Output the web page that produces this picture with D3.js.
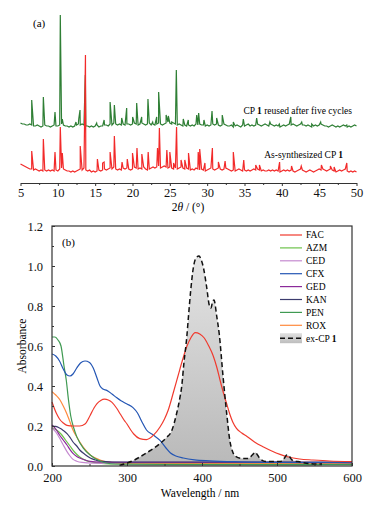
<!DOCTYPE html>
<html><head><meta charset="utf-8">
<script src="https://cdn.jsdelivr.net/npm/d3@7"></script>
<style>body{margin:0;background:#fff}svg{display:block;font-family:"Liberation Serif","DejaVu Serif",serif}svg text{font-family:"Liberation Serif","DejaVu Serif",serif}</style>
</head><body><svg id="c" width="383" height="510"></svg>
<script>
// ---------- Panel (a) data: PXRD (arbitrary intensity units) ----------
const thetaStart = 5, thetaStep = 0.25;
const greenBase = [4,3,3,2, 2,3,2,1, 1,2,1,0, 1,2,1,1, 0,1,2,1, 1,2,3,2, 1,1,0,1, 0,1,2,3, 2,3,2,1, 1,0,1,0,
  1,2,0,1, 1,2,2,1, 3,2,4,3, 2,3,2,3, 2,3,3,2, 3,4,3,2, 3,4,3,2, 3,4,2,3, 2,3,4,3, 2,3,4,5,
  4,3,4,3, 2,3,2,1, 2,1,2,1, 2,1,3,2, 3,2,2,1, 2,1,2,3, 2,3,2,1, 2,3,2,1, 1,2,0,1, 2,1,0,2,
  1,2,3,1, 2,1,2,3, 2,1,2,3, 2,1,3,2, 1,2,1,0, 1,2,1,2, 3,2,3,2, 1,2,3,2, 2,1,2,1, 0,1,2,1,
  2,3,2,1, 1,0,1,2, 1,0,1,0, 1,2,1,0, 1,0,1,2, 1];
const greenPeaks = [[6.5,27],[8.06,30],[9.62,15],[10.33,112],[10.6,8],[12.43,5],[12.8,8],[12.97,17],[13.68,52],
  [15.2,4],[16.2,7],[17.0,25],[17.57,22],[18.55,9],[19.22,19],[20.02,10],[20.56,24],[21.23,10],[22.07,28],
  [22.7,5],[23.24,10],[23.5,35],[24.5,12],[24.8,11],[25.25,5],[25.87,57],[26.8,8],[27.47,7],[28.6,12],
  [28.86,14],[29.57,7],[30.65,16],[31.27,9],[32.02,12],[33.5,5],[34.84,8],[36.63,9],[38.4,5],[39.66,3],
  [41.2,10],[42.66,5],[44.0,3],[45.2,5],[48.7,2]];
const redBase = [8,7,6,5, 4,3,3,2, 3,2,1,2, 1,2,1,2, 1,2,1,2, 1,3,4,3, 2,1,1,0, 1,0,1,2, 3,2,4,2, 1,2,0,1,
  0,1,2,1, 2,3,2,3, 4,3,5,3, 2,3,2,4, 3,4,3,2, 3,5,4,3, 4,3,5,3, 2,3,4,5, 4,5,6,4, 5,6,5,4,
  5,4,3,4, 3,4,5,4, 3,4,3,2, 3,2,4,3, 2,3,2,1, 2,3,4,3, 2,3,4,3, 2,3,4,3, 2,1,2,1, 2,3,2,1,
  2,1,2,1, 2,3,2,3, 2,1,2,1, 1,2,1,2, 1,2,1,0, 1,2,1,2, 1,2,1,0, 1,2,3,2, 1,0,1,2, 1,0,1,2,
  3,2,3,2, 1,2,3,2, 1,0,1,2, 1,2,3,1, 0,1,0,1, 0];
const redPeaks = [[6.5,21],[8.06,33],[9.62,20],[10.33,45],[10.6,19],[13.0,26],[13.7,117],[15.3,13],[16.0,9],
  [16.2,10],[17.0,20],[17.57,36],[18.6,10],[19.3,13],[20.0,19],[20.6,24],[21.25,18],[22.1,20],[23.35,24],
  [23.6,44],[24.6,22],[25.0,20],[25.5,9],[25.9,45],[26.5,12],[27.0,12],[27.5,19],[28.8,20],[29.0,23],
  [29.7,9],[30.7,24],[31.5,10],[32.4,11],[33.5,20],[34.9,12],[36.5,7],[37.0,7],[39.7,10],[41.3,6],
  [42.6,6],[45.3,7],[46.5,6],[47.0,5],[48.7,9]];
const greenOffset = 56, redOffset = 11;
const xTicksA = [5,10,15,20,25,30,35,40,45,50];

// ---------- Panel (b) data: UV-vis absorbance ----------
const seriesNames = ["FAC","AZM","CED","CFX","GED","KAN","PEN","ROX"];
const FAC = [[200,0.32],[206,0.262],[210,0.235],[215,0.215],[220,0.203],[228,0.2],[237,0.2],[244,0.21],[251,0.254],
  [256,0.29],[260,0.312],[265,0.328],[270,0.334],[275,0.33],[280,0.318],[286,0.29],[291,0.26],[296,0.23],[300,0.21],
  [305,0.18],[309,0.16],[317,0.137],[326,0.132],[335,0.153],[344,0.195],[350,0.235],[355,0.28],[362,0.37],
  [368,0.45],[374,0.53],[380,0.6],[385,0.64],[391,0.667],[397,0.66],[403,0.64],[409,0.6],[415,0.55],[420,0.49],
  [424,0.43],[429,0.36],[433,0.31],[437,0.26],[441,0.22],[446,0.188],[453,0.165],[460,0.148],[470,0.12],
  [482,0.095],[493,0.075],[504,0.058],[515,0.045],[530,0.035],[548,0.03],[570,0.025],[600,0.022]];
const AZM = [[200,0.19],[206,0.18],[212,0.16],[218,0.13],[224,0.1],[230,0.07],[237,0.045],[245,0.028],[255,0.018],
  [270,0.012],[300,0.01],[400,0.009],[600,0.008]];
const CED = [[200,0.19],[205,0.17],[210,0.14],[215,0.105],[220,0.072],[224,0.05],[228,0.033],[233,0.024],
  [240,0.018],[255,0.014],[300,0.012],[400,0.012],[600,0.012]];
const CFX = [[200,0.56],[205,0.55],[210,0.525],[215,0.485],[220,0.455],[224,0.45],[228,0.46],[233,0.49],
  [238,0.515],[244,0.525],[250,0.518],[255,0.49],[260,0.44],[264,0.4],[268,0.385],[273,0.378],[280,0.36],
  [286,0.342],[292,0.326],[300,0.31],[308,0.292],[314,0.265],[320,0.22],[326,0.18],[335,0.155],[344,0.128],
  [352,0.09],[358,0.065],[365,0.05],[375,0.04],[390,0.031],[410,0.026],[450,0.021],[500,0.018],[550,0.017],[600,0.016]];
const GED = [[200,0.205],[205,0.185],[210,0.155],[215,0.13],[220,0.105],[224,0.082],[228,0.063],[233,0.048],
  [237,0.04],[244,0.03],[251,0.023],[264,0.019],[300,0.018],[400,0.018],[600,0.018]];
const KAN = [[200,0.2],[205,0.198],[210,0.19],[215,0.178],[220,0.162],[224,0.143],[228,0.12],[233,0.1],
  [237,0.08],[244,0.058],[251,0.04],[258,0.03],[264,0.024],[280,0.02],[350,0.02],[600,0.02]];
const PEN = [[200,0.645],[204,0.645],[208,0.63],[212,0.6],[216,0.5],[219,0.43],[222,0.33],[225,0.25],[229,0.19],
  [233,0.147],[242,0.088],[251,0.055],[258,0.036],[264,0.025],[272,0.015],[285,0.01],[350,0.008],[600,0.007]];
const ROX = [[200,0.372],[205,0.355],[210.7,0.33],[215,0.3],[219.6,0.263],[224,0.22],[228,0.18],[233,0.145],
  [237,0.12],[244,0.083],[251,0.055],[258,0.04],[264,0.03],[275,0.02],[300,0.014],[400,0.013],[600,0.012]];
const exCP1 = [[290,0.003],[300,0.015],[310,0.03],[317,0.045],[330,0.075],[344,0.112],[352,0.14],[360,0.18],
  [366,0.26],[370,0.33],[373,0.4],[376,0.52],[379.6,0.64],[382,0.75],[385,0.88],[388.4,0.99],[392,1.04],
  [396,1.05],[399,1.03],[402,0.99],[406,0.9],[410,0.8],[412,0.79],[414,0.82],[416,0.83],[419.6,0.75],
  [423,0.66],[428,0.45],[433,0.26],[437,0.13],[441,0.07],[444,0.05],[453,0.038],[462,0.038],[467,0.055],
  [471,0.068],[474,0.055],[477,0.038],[486,0.022],[504,0.022],[510,0.04],[513,0.055],[516,0.05],[520,0.03],
  [531,0.02],[545,0.012],[560,0.01]];
const seriesColors = ["#f03a2e","#6cc24a","#c58ad0","#2456b4","#8b2a9a","#3c3c6e","#3f9a52","#ff8a3d"];
const seriesData = [FAC,AZM,CED,CFX,GED,KAN,PEN,ROX];
const yTicksB = [0,0.2,0.4,0.6,0.8,1.0,1.2];
const xTicksB = [200,300,400,500,600];

const svg = d3.select("#c");

// ================= Panel (a) =================
const xA = d3.scaleLinear().domain([5,50]).range([20.5,356.5]);
const yA = d3.scaleLinear().domain([0,180]).range([183,3]);
function buildPattern(base, peaks, off){
  const pts = base.map((v,i)=>[thetaStart+i*thetaStep, v]).concat(peaks.map(p=>[p[0],p[1]]));
  pts.sort((a,b)=>a[0]-b[0]);
  return pts.map(p=>[p[0], p[1]+off]);
}
const lineA = d3.line().x(d=>xA(d[0])).y(d=>yA(d[1]));
const gA = svg.append("g");
gA.append("path").attr("d", lineA(buildPattern(greenBase, greenPeaks, greenOffset)))
  .attr("fill","none").attr("stroke","#2f7f35").attr("stroke-width",1.2);
gA.append("path").attr("d", lineA(buildPattern(redBase, redPeaks, redOffset)))
  .attr("fill","none").attr("stroke","#f22a2a").attr("stroke-width",1.2);

const axA = gA.append("g").attr("transform","translate(0,183)")
  .call(d3.axisBottom(xA).tickValues(xTicksA).tickSize(3).tickSizeOuter(0).tickFormat(d3.format("d")));
axA.attr("font-family",null);
axA.select(".domain").attr("stroke","#333");
axA.selectAll(".tick line").attr("stroke","#333");
axA.selectAll("text").attr("font-size",12.5).attr("fill","#111").attr("dy","0.75em").attr("y",5);
const axAm = gA.append("g").attr("transform","translate(0,183)")
  .call(d3.axisBottom(xA).tickValues(d3.range(7.5,50,5)).tickSize(2).tickFormat(""));
axAm.select(".domain").remove();
axAm.selectAll(".tick line").attr("stroke","#333");

gA.append("text").attr("x",33).attr("y",27).attr("font-size",11).text("(a)");
const tA = gA.append("text").attr("x",188).attr("y",211).attr("text-anchor","middle").attr("font-size",11.5);
tA.append("tspan").text("2");
tA.append("tspan").attr("font-style","italic").text("θ");
tA.append("tspan").text(" / (°)");
const l1 = gA.append("text").attr("x",352).attr("y",114).attr("text-anchor","end").attr("font-size",9.5);
l1.append("tspan").text("CP ");
l1.append("tspan").attr("font-weight","bold").text("1");
l1.append("tspan").text(" reused after five cycles");
const l2 = gA.append("text").attr("x",343).attr("y",158).attr("text-anchor","end").attr("font-size",9.5);
l2.append("tspan").text("As-synthesized CP ");
l2.append("tspan").attr("font-weight","bold").text("1");

// ================= Panel (b) =================
const L=52, R=352, T=226, B=466;
const xB = d3.scaleLinear().domain([200,600]).range([L,R]);
const yB = d3.scaleLinear().domain([0,1.2]).range([B,T]);
const gB = svg.append("g");
const defs = svg.append("defs");
const grad = defs.append("linearGradient").attr("id","gfill").attr("x1",0).attr("y1",0).attr("x2",0).attr("y2",1);
grad.append("stop").attr("offset","0%").attr("stop-color","#e4e4e4");
grad.append("stop").attr("offset","100%").attr("stop-color","#b9b9b9");
const gradL = defs.append("linearGradient").attr("id","gleg").attr("x1",0).attr("y1",0).attr("x2",0).attr("y2",1);
gradL.append("stop").attr("offset","0%").attr("stop-color","#e0e0e0");
gradL.append("stop").attr("offset","100%").attr("stop-color","#bdbdbd");

const areaB = d3.area().x(d=>xB(d[0])).y0(yB(0)).y1(d=>yB(d[1])).curve(d3.curveMonotoneX);
const lineB = d3.line().x(d=>xB(d[0])).y(d=>yB(d[1])).curve(d3.curveMonotoneX);
gB.append("path").attr("d", areaB(exCP1)).attr("fill","url(#gfill)");

const order = [1,2,7,4,5,6,3,0];
order.forEach(i=>{
  gB.append("path").attr("d", lineB(seriesData[i])).attr("fill","none")
    .attr("stroke", seriesColors[i]).attr("stroke-width",1.2);
});
gB.append("path").attr("d", lineB(exCP1)).attr("fill","none").attr("stroke","#111")
  .attr("stroke-width",1.5).attr("stroke-dasharray","5,3");

gB.append("rect").attr("x",L).attr("y",T).attr("width",R-L).attr("height",B-T)
  .attr("fill","none").attr("stroke","#333").attr("stroke-width",1.2);
const axBy = gB.append("g").attr("transform",`translate(${L},0)`)
  .call(d3.axisLeft(yB).tickValues(yTicksB).tickSize(-3).tickPadding(9).tickFormat(d3.format(".1f")));
axBy.attr("font-family",null);
axBy.select(".domain").remove();
axBy.selectAll(".tick line").attr("stroke","#333");
axBy.selectAll("text").attr("font-size",12.5).attr("fill","#111");
const axByM = gB.append("g").attr("transform",`translate(${L},0)`)
  .call(d3.axisLeft(yB).tickValues(d3.range(0.1,1.2,0.2)).tickSize(-2).tickFormat(""));
axByM.select(".domain").remove();
axByM.selectAll(".tick line").attr("stroke","#333");
const axBx = gB.append("g").attr("transform",`translate(0,${B})`)
  .call(d3.axisBottom(xB).tickValues(xTicksB).tickSize(-3).tickPadding(7).tickFormat(d3.format("d")));
axBx.attr("font-family",null);
axBx.select(".domain").remove();
axBx.selectAll(".tick line").attr("stroke","#333");
axBx.selectAll("text").attr("font-size",12.5).attr("fill","#111");
const axBxM = gB.append("g").attr("transform",`translate(0,${B})`)
  .call(d3.axisBottom(xB).tickValues([250,350,450,550]).tickSize(-2).tickFormat(""));
axBxM.select(".domain").remove();
axBxM.selectAll(".tick line").attr("stroke","#333");

gB.append("text").attr("x",62).attr("y",246).attr("font-size",11).text("(b)");
gB.append("text").attr("transform","translate(26,346) rotate(-90)").attr("text-anchor","middle")
  .attr("font-size",11.5).text("Absorbance");
gB.append("text").attr("x",200).attr("y",497).attr("text-anchor","middle").attr("font-size",11.5).text("Wavelength / nm");

const legY0 = 235, legStep = 12.9;
seriesNames.forEach((n,i)=>{
  const y = legY0 + i*legStep;
  gB.append("line").attr("x1",280).attr("x2",302).attr("y1",y).attr("y2",y)
    .attr("stroke",seriesColors[i]).attr("stroke-width",1.2);
  gB.append("text").attr("x",306).attr("y",y+3.3).attr("font-size",9.5).text(n);
});
const ly = legY0 + 8*legStep;
gB.append("rect").attr("x",280).attr("y",ly-5).attr("width",22).attr("height",10).attr("fill","url(#gleg)");
gB.append("line").attr("x1",280).attr("x2",302).attr("y1",ly).attr("y2",ly)
  .attr("stroke","#111").attr("stroke-width",1.5).attr("stroke-dasharray","5,3");
const lt = gB.append("text").attr("x",306).attr("y",ly+3.3).attr("font-size",9.5);
lt.append("tspan").text("ex-CP ");
lt.append("tspan").attr("font-weight","bold").text("1");
</script></body></html>
